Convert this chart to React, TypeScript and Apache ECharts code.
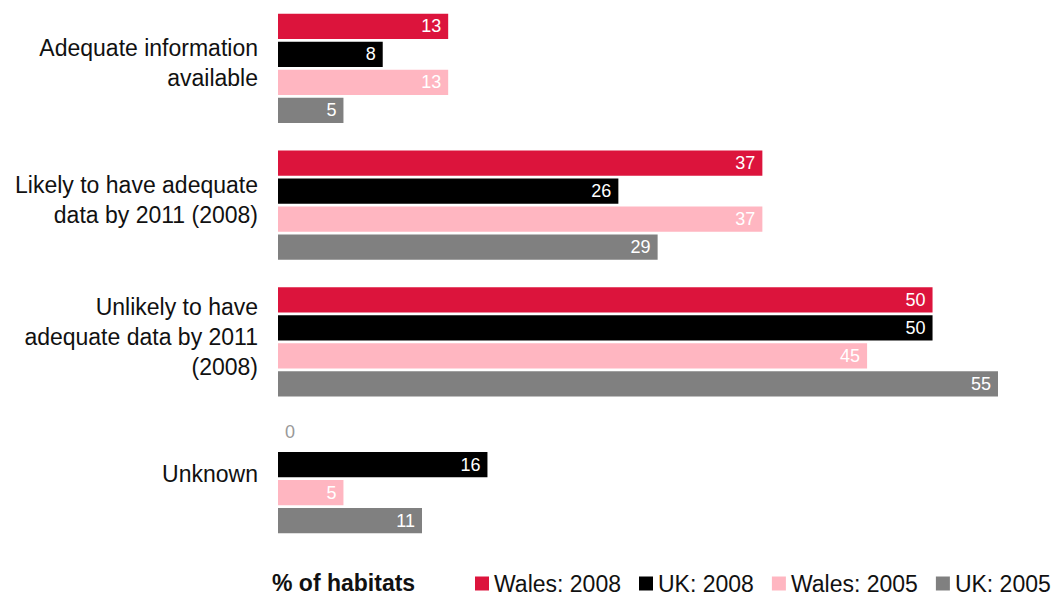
import React, { useEffect, useRef } from "react";
import * as echarts from "echarts";

const categories = [
  "Adequate information\navailable",
  "Likely to have adequate\ndata by 2011 (2008)",
  "Unlikely to have\nadequate data by 2011\n(2008)",
  "Unknown",
];
const seriesNames = ["Wales: 2008", "UK: 2008", "Wales: 2005", "UK: 2005"];
const wales2008 = [13, 37, 50, 0];
const uk2008 = [8, 26, 50, 16];
const wales2005 = [13, 37, 45, 5];
const uk2005 = [5, 29, 55, 11];
const colors = ["#DC143C", "#000000", "#FFB6C1", "#808080"];
const axisTitle = "% of habitats";

export default function App() {
  const ref = useRef<HTMLDivElement>(null);
  useEffect(() => {
    if (!ref.current) return;
    const chart = echarts.init(ref.current, null, { renderer: "svg" });
    const font = "'Liberation Sans', Arial, sans-serif";
    const allData = [wales2008, uk2008, wales2005, uk2005];
    const series = allData.map((arr, i) => ({
      name: seriesNames[i],
      type: "bar",
      barGap: "10%",
      barCategoryGap: "20%",
      itemStyle: { color: colors[i] },
      label: {
        show: true,
        position: "insideRight",
        distance: 7,
        color: "#ffffff",
        fontSize: 18,
        fontFamily: font,
      },
      data: arr.map((v) =>
        v === 0
          ? { value: v, label: { position: "right", distance: 7, color: "#999999", offset: [0, -5] } }
          : v
      ),
    }));
    chart.setOption({
      animation: false,
      grid: { left: 278, right: 61, top: 0, bottom: 50 },
      xAxis: {
        type: "value",
        min: 0,
        max: 55,
        show: false,
      },
      yAxis: {
        type: "category",
        data: categories,
        inverse: true,
        axisLine: { show: false },
        axisTick: { show: false },
        axisLabel: {
          margin: 20,
          color: "#111111",
          fontSize: 23,
          lineHeight: 30,
          fontFamily: font,
          align: "right",
          formatter: (v: string) => v + "\n{s|}",
          rich: { s: { lineHeight: 10, fontSize: 2 } },
        },
      },
      title: {
        text: axisTitle,
        left: 267,
        top: 566,
        textStyle: { fontSize: 23, fontWeight: "bold", color: "#111111", fontFamily: font },
      },
      legend: {
        data: seriesNames,
        left: 470,
        top: 567,
        itemWidth: 14,
        itemHeight: 14,
        itemGap: 18,
        icon: "rect",
        textStyle: { fontSize: 23, color: "#111111", fontFamily: font },
      },
      series,
    });
    return () => chart.dispose();
  }, []);
  return <div ref={ref} style={{ width: 1059, height: 597, position: "absolute", left: 0, top: 0 }} />;
}
